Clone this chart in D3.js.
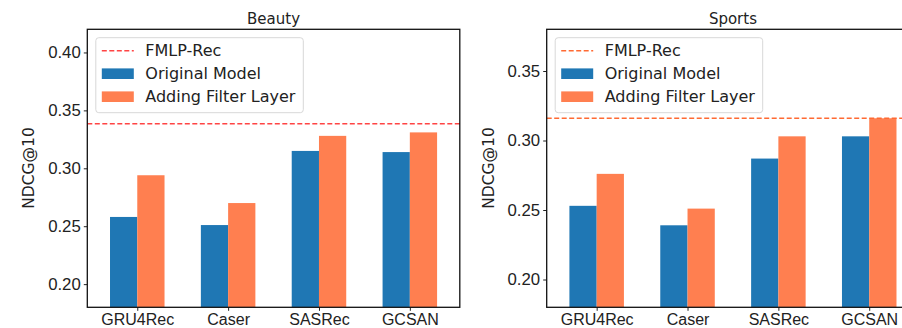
<!DOCTYPE html>
<html>
<head>
<meta charset="utf-8">
<script src="https://cdn.jsdelivr.net/npm/d3@7"></script>
<style>
  body { margin: 0; background: #fff; }
  svg { display: block; font-family: "DejaVu Sans", sans-serif; }
</style>
</head>
<body>
<svg id="chart" width="902" height="328"></svg>
<script>
const categories = ['GRU4Rec', 'Caser', 'SASRec', 'GCSAN'];
const seriesNames = ['FMLP-Rec', 'Original Model', 'Adding Filter Layer'];

const beautyOriginal = [0.258, 0.251, 0.315, 0.314];
const beautyFilter = [0.294, 0.270, 0.328, 0.331];
const beautyFmlp = 0.3385;
const beautyTicks = [0.20, 0.25, 0.30, 0.35, 0.40];

const sportsOriginal = [0.253, 0.239, 0.287, 0.303];
const sportsFilter = [0.276, 0.251, 0.303, 0.316];
const sportsFmlp = 0.316;
const sportsTicks = [0.20, 0.25, 0.30, 0.35];

const blue = '#1f77b4', orange = '#ff7f50';
const svg = d3.select('#chart');

function panel(opts) {
  const x = d3.scaleLinear().domain([-0.55, 3.55]).range([opts.left, opts.left + 372.5]);
  const y = d3.scaleLinear().domain(opts.ylim).range([307.3, 29.3]);
  const g = svg.append('g');
  const bw = 0.3;

  // bars
  g.selectAll('rect.orig').data(opts.original).join('rect')
    .attr('x', (d, i) => x(i - bw)).attr('width', x(bw) - x(0))
    .attr('y', d => y(d)).attr('height', d => y(opts.ylim[0]) - y(d))
    .attr('fill', blue);
  g.selectAll('rect.filt').data(opts.filter).join('rect')
    .attr('x', (d, i) => x(i)).attr('width', x(bw) - x(0))
    .attr('y', d => y(d)).attr('height', d => y(opts.ylim[0]) - y(d))
    .attr('fill', orange);

  // FMLP-Rec reference line
  g.append('line')
    .attr('x1', x.range()[0]).attr('x2', x.range()[1])
    .attr('y1', y(opts.fmlp)).attr('y2', y(opts.fmlp))
    .attr('stroke', opts.lineColor).attr('stroke-width', 1.5)
    .attr('stroke-dasharray', '5,2.5');

  // axes
  const yAxis = d3.axisLeft(y).tickValues(opts.ticks).tickFormat(d3.format('.2f'))
    .tickSize(3.5).tickPadding(3);
  g.append('g').attr('transform', `translate(${x.range()[0]},0)`).call(yAxis)
    .call(a => a.select('.domain').remove())
    .call(a => a.selectAll('text').attr('font-size', 16.8).attr('fill', '#222').attr('font-family', null))
    .call(a => a.selectAll('line').attr('stroke', '#222'));

  const xAxis = d3.axisBottom(x).tickValues(d3.range(categories.length))
    .tickFormat(i => categories[i]).tickSize(3.5).tickPadding(3);
  g.append('g').attr('transform', 'translate(0,307.3)').call(xAxis)
    .call(a => a.select('.domain').remove())
    .call(a => a.selectAll('text').attr('font-size', 16).attr('fill', '#222').attr('font-family', null))
    .call(a => a.selectAll('line').attr('stroke', '#222'));

  // frame
  g.append('rect')
    .attr('x', x.range()[0]).attr('y', 29.3)
    .attr('width', x.range()[1] - x.range()[0]).attr('height', 278)
    .attr('fill', 'none').attr('stroke', '#111').attr('stroke-width', 1.3);

  // title
  g.append('text').attr('x', (x.range()[0] + x.range()[1]) / 2).attr('y', 24)
    .attr('text-anchor', 'middle').attr('font-size', 15).attr('fill', '#222')
    .text(opts.title);

  // y label
  g.append('text')
    .attr('transform', `translate(${opts.ylabelX},168) rotate(-90)`)
    .attr('text-anchor', 'middle').attr('dy', '0.35em')
    .attr('font-size', 15.5).attr('fill', '#222')
    .text('NDCG@10');

  // legend
  const lx = x.range()[0] + 8.5, ly = 37.7;
  const leg = g.append('g').attr('transform', `translate(${lx},${ly})`);
  leg.append('rect').attr('width', 207.5).attr('height', 75).attr('rx', 3)
    .attr('fill', '#fff').attr('fill-opacity', 0.8)
    .attr('stroke', '#d8d8d8').attr('stroke-width', 1);
  const rows = [13, 36, 59];
  leg.append('line').attr('x1', 6).attr('x2', 38).attr('y1', rows[0]).attr('y2', rows[0])
    .attr('stroke', opts.lineColor).attr('stroke-width', 1.5).attr('stroke-dasharray', '5,2.5');
  leg.append('rect').attr('x', 6).attr('y', rows[1] - 5.3).attr('width', 32).attr('height', 10.6).attr('fill', blue);
  leg.append('rect').attr('x', 6).attr('y', rows[2] - 5.3).attr('width', 32).attr('height', 10.6).attr('fill', orange);
  leg.selectAll('text.lab').data(seriesNames).join('text')
    .attr('x', 49.5).attr('y', (d, i) => rows[i]).attr('dy', '0.35em')
    .attr('font-size', 16).attr('fill', '#222').text(d => d);
}

panel({
  title: 'Beauty', left: 87.3, ylim: [0.18, 0.42], ticks: beautyTicks,
  original: beautyOriginal, filter: beautyFilter, fmlp: beautyFmlp,
  lineColor: '#ff4444', ylabelX: 28.5
});
panel({
  title: 'Sports', left: 546.7, ylim: [0.18, 0.38], ticks: sportsTicks,
  original: sportsOriginal, filter: sportsFilter, fmlp: sportsFmlp,
  lineColor: '#ff6a33', ylabelX: 488.3
});
</script>
</body>
</html>
